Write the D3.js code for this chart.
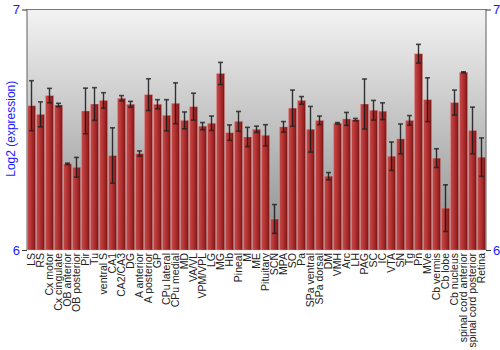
<!DOCTYPE html>
<html>
<head>
<meta charset="utf-8">
<script src="https://cdn.jsdelivr.net/npm/d3@7"></script>
<style>
  body { margin: 0; background: #fff; }
  svg { display: block; font-family: "Liberation Sans", Arial, sans-serif; }
</style>
</head>
<body>
<svg id="canvas" width="500" height="350"></svg>
<script>
// tissue names along the x axis
let regions = ['LS', 'RS', 'Cx motor', 'Cx cingulate', 'OB anterior', 'OB posterior', 'Pir', 'Tu',
  'ventral S', 'CA1', 'CA2/CA3', 'DG', 'A anterior', 'A posterior', 'GP', 'CPu lateral', 'CPu medial',
  'MD', 'VA/VL', 'VPM/VPL', 'LG', 'MG', 'Hb', 'Pineal', 'M', 'ME', 'Pituitary', 'SCN', 'MPA', 'SO',
  'Pa', 'SPa ventral', 'SPa dorsal', 'DM', 'VMH', 'Arc', 'LH', 'PAG', 'SC', 'IC', 'VTA', 'SN', 'Tg',
  'Pn', 'MVe', 'Cb vermis', 'Cb lobe', 'Cb nucleus', 'spinal cord anterior', 'spinal cord posterior', 'Retina']

// mean log2 expression per region
let expression = [6.600, 6.564, 6.642, 6.603, 6.358, 6.344, 6.578, 6.607,
  6.622, 6.393, 6.631, 6.606, 6.401, 6.646, 6.606, 6.560, 6.610,
  6.539, 6.596, 6.515, 6.527, 6.734, 6.488, 6.535, 6.470, 6.502, 6.477, 6.129, 6.512, 6.590,
  6.622, 6.502, 6.539, 6.307, 6.527, 6.545, 6.542, 6.607, 6.581, 6.577, 6.390, 6.462, 6.539,
  6.816, 6.625, 6.382, 6.174, 6.613, 6.739, 6.497, 6.386]

// error (half length of the error bar)
let errors = [0.104, 0.052, 0.030, 0.007, 0.003, 0.041, 0.095, 0.068,
  0.032, 0.115, 0.011, 0.012, 0.011, 0.066, 0.019, 0.065, 0.085,
  0.035, 0.056, 0.015, 0.030, 0.046, 0.032, 0.041, 0.040, 0.013, 0.044, 0.060, 0.022, 0.075,
  0.016, 0.095, 0.018, 0.015, 0.003, 0.027, 0.005, 0.104, 0.041, 0.035, 0.059, 0.062, 0.020,
  0.039, 0.091, 0.039, 0.097, 0.052, 0.002, 0.097, 0.080]

let yTicks = [6, 7]

let canvas = d3.select('#canvas')

let plotLeft = 27, plotRight = 486, plotTop = 9.5, plotBottom = 250

let xScale = d3.scaleBand()
  .domain(regions)
  .range([plotLeft, plotRight])
  .paddingInner(0.1)
  .paddingOuter(0.05)

let yScale = d3.scaleLinear()
  .domain([6, 7])
  .range([plotBottom, plotTop])

let defs = canvas.append('defs')

// grey background that darkens towards the bottom
let bg = defs.append('linearGradient')
  .attr('id', 'bg')
  .attr('x1', 0).attr('y1', 0).attr('x2', 0).attr('y2', 1)
bg.append('stop').attr('offset', '0%').attr('stop-color', '#f3f3f3')
bg.append('stop').attr('offset', '100%').attr('stop-color', '#8c8c8c')

// bars: light on the left, dark on the right
let barGrad = defs.append('linearGradient')
  .attr('id', 'bar')
  .attr('x1', 0).attr('y1', 0).attr('x2', 1).attr('y2', 0)
barGrad.append('stop').attr('offset', '0%').attr('stop-color', '#c44a4a')
barGrad.append('stop').attr('offset', '35%').attr('stop-color', '#b83838')
barGrad.append('stop').attr('offset', '75%').attr('stop-color', '#9a2222')
barGrad.append('stop').attr('offset', '100%').attr('stop-color', '#6e1010')

canvas.append('rect')
  .attr('x', plotLeft)
  .attr('y', plotTop)
  .attr('width', plotRight - plotLeft)
  .attr('height', plotBottom - plotTop)
  .attr('fill', 'url(#bg)')

// frame: top, left and right lines
canvas.append('path')
  .attr('d', `M${plotLeft},${plotBottom}V${plotTop}H${plotRight}V${plotBottom}`)
  .attr('fill', 'none')
  .attr('stroke', '#777')
  .attr('stroke-width', 1.2)

let data = regions.map((r, i) => ({ region: r, value: expression[i], err: errors[i] }))

let block = canvas.selectAll('g.bar')
  .data(data)
  .enter()
  .append('g')
  .attr('class', 'bar')

block.append('rect')
  .attr('x', d => xScale(d.region))
  .attr('y', d => yScale(d.value))
  .attr('width', xScale.bandwidth())
  .attr('height', d => plotBottom - yScale(d.value))
  .attr('fill', 'url(#bar)')
  .attr('stroke', 'rgba(240,170,170,0.45)')
  .attr('stroke-width', 0.8)

let cx = d => xScale(d.region) + xScale.bandwidth() / 2

block.append('line')
  .attr('x1', cx).attr('x2', cx)
  .attr('y1', d => yScale(d.value + d.err))
  .attr('y2', d => yScale(d.value - d.err))
  .attr('stroke', '#151515')
  .attr('stroke-opacity', 0.85)
  .attr('stroke-width', 1.4)

block.selectAll('line.cap')
  .data(d => [d.value + d.err, d.value - d.err].map(v => ({ x: cx(d), v: v })))
  .enter()
  .append('line')
  .attr('class', 'cap')
  .attr('x1', d => d.x - 2.5).attr('x2', d => d.x + 2.5)
  .attr('y1', d => yScale(d.v)).attr('y2', d => yScale(d.v))
  .attr('stroke', '#222')
  .attr('stroke-opacity', 0.8)
  .attr('stroke-width', 1.6)

// category labels, rotated
canvas.selectAll('text.cat')
  .data(regions)
  .enter()
  .append('text')
  .attr('class', 'cat')
  .attr('transform', d => `translate(${xScale(d) + xScale.bandwidth() / 2 + 3.8},${plotBottom + 3}) rotate(-90)`)
  .attr('text-anchor', 'end')
  .attr('font-size', '10.5px')
  .attr('fill', '#222')
  .text(d => d)

// y axis ticks on both sides
let leftAxis = canvas.append('g').attr('transform', `translate(${plotLeft},0)`)
  .call(d3.axisLeft(yScale).tickValues(yTicks).tickFormat(d3.format('d')).tickSize(5).tickPadding(2))
let rightAxis = canvas.append('g').attr('transform', `translate(${plotRight},0)`)
  .call(d3.axisRight(yScale).tickValues(yTicks).tickFormat(d3.format('d')).tickSize(5).tickPadding(2))

for (let ax of [leftAxis, rightAxis]) {
  ax.select('.domain').remove()
  ax.selectAll('.tick line').attr('stroke', '#333')
  ax.selectAll('.tick text')
    .attr('fill', '#1a1aff')
    .attr('font-size', '13px')
    .attr('font-family', '"Liberation Sans", Arial, sans-serif')
}

canvas.append('text')
  .attr('transform', `translate(15,${(plotTop + plotBottom) / 2 - 1}) rotate(-90)`)
  .attr('text-anchor', 'middle')
  .attr('font-size', '12px')
  .attr('fill', '#1a1aff')
  .text('Log2 (expression)')
</script>
</body>
</html>
